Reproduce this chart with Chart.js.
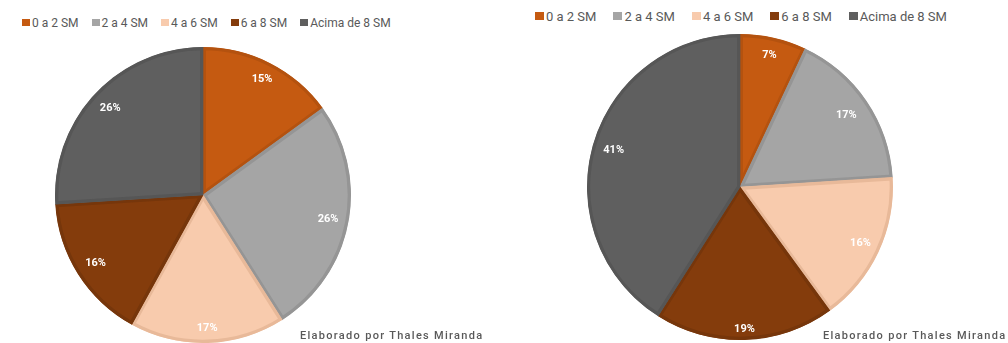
<!DOCTYPE html>
<html lang="pt-BR">
<head>
<meta charset="UTF-8">
<title>Faixa salarial</title>
<script src="https://cdn.jsdelivr.net/npm/chart.js"></script>
<style>
    body { margin: 0; width: 1008px; height: 343px; overflow: hidden; background: #fff; position: relative; font-family: Roboto, sans-serif; }
    .legend { position: absolute; display: flex; align-items: center; color: #595959; white-space: nowrap; }
    .legend .item { display: flex; align-items: center; }
    .legend i { display: inline-block; }
    .pie { position: absolute; }
    .credit { position: absolute; color: #595959; font-size: 11px; font-weight: 500; letter-spacing: 1.3px; white-space: nowrap; }
</style>
</head>
<body>
    <div class="legend" id="legendA" style="left:22px; top:15px; height:15px; font-size:12px;"></div>
    <div class="pie" style="left:53px; top:45px; width:300px; height:300px;">
        <canvas id="pieA" width="300" height="300"></canvas>
    </div>
    <div class="credit" style="left:300px; top:329px;">Elaborado por Thales Miranda</div>

    <div class="legend" id="legendB" style="left:535px; top:8px; height:16px; font-size:13px;"></div>
    <div class="pie" style="left:580px; top:27px; width:320px; height:320px;">
        <canvas id="pieB" width="320" height="320"></canvas>
    </div>
    <div class="credit" style="left:823px; top:329px;">Elaborado por Thales Miranda</div>

<script>
const faixas = ['0 a 2 SM', '2 a 4 SM', '4 a 6 SM', '6 a 8 SM', 'Acima de 8 SM'];
const valoresA = [15, 26, 17, 16, 26];
const valoresB = [7, 17, 16, 19, 41];

const cores = ['#C55A11', '#A5A5A5', '#F8CBAD', '#843C0C', '#5F5F5F'];
const bordas = ['#B4520F', '#959595', '#E8B999', '#76360B', '#565656'];

function buildLegend(el, box, textGap, itemGap) {
    faixas.forEach((f, i) => {
        const item = document.createElement('span');
        item.className = 'item';
        if (i > 0) item.style.marginLeft = itemGap + 'px';
        const sw = document.createElement('i');
        sw.style.width = box + 'px';
        sw.style.height = (box - 1) + 'px';
        sw.style.background = cores[i];
        sw.style.marginRight = textGap + 'px';
        item.appendChild(sw);
        item.appendChild(document.createTextNode(f));
        el.appendChild(item);
    });
}
buildLegend(document.getElementById('legendA'), 8, 2, 13);
buildLegend(document.getElementById('legendB'), 9, 2, 17);

// percentage labels placed along each slice's bisector
const sliceLabels = {
    id: 'sliceLabels',
    afterDatasetsDraw(chart, args, opts) {
        const ctx = chart.ctx;
        const meta = chart.getDatasetMeta(0);
        const values = chart.data.datasets[0].data;
        ctx.save();
        ctx.fillStyle = '#fff';
        ctx.font = 'bold 11px Roboto, sans-serif';
        ctx.textAlign = 'center';
        ctx.textBaseline = 'middle';
        meta.data.forEach((arc, i) => {
            const p = arc.getProps(['x', 'y', 'startAngle', 'endAngle', 'outerRadius'], true);
            const mid = (p.startAngle + p.endAngle) / 2;
            const r = p.outerRadius * opts.factors[i];
            ctx.fillText(values[i] + '%', p.x + Math.cos(mid) * r, p.y + Math.sin(mid) * r);
        });
        ctx.restore();
    }
};

function makePie(id, values, radius, factors) {
    return new Chart(document.getElementById(id), {
        type: 'pie',
        data: {
            labels: faixas,
            datasets: [{
                data: values,
                backgroundColor: cores,
                borderColor: bordas,
                borderWidth: 3,
                borderAlign: 'inner'
            }]
        },
        options: {
            responsive: false,
            animation: false,
            events: [],
            radius: radius,
            layout: { padding: 0 },
            plugins: {
                legend: { display: false },
                tooltip: { enabled: false },
                sliceLabels: { factors: factors }
            }
        },
        plugins: [sliceLabels]
    });
}

makePie('pieA', valoresA, 148, [0.88, 0.86, 0.9, 0.86, 0.86]);
makePie('pieB', valoresB, 153, [0.88, 0.84, 0.87, 0.93, 0.86]);
</script>
</body>
</html>
